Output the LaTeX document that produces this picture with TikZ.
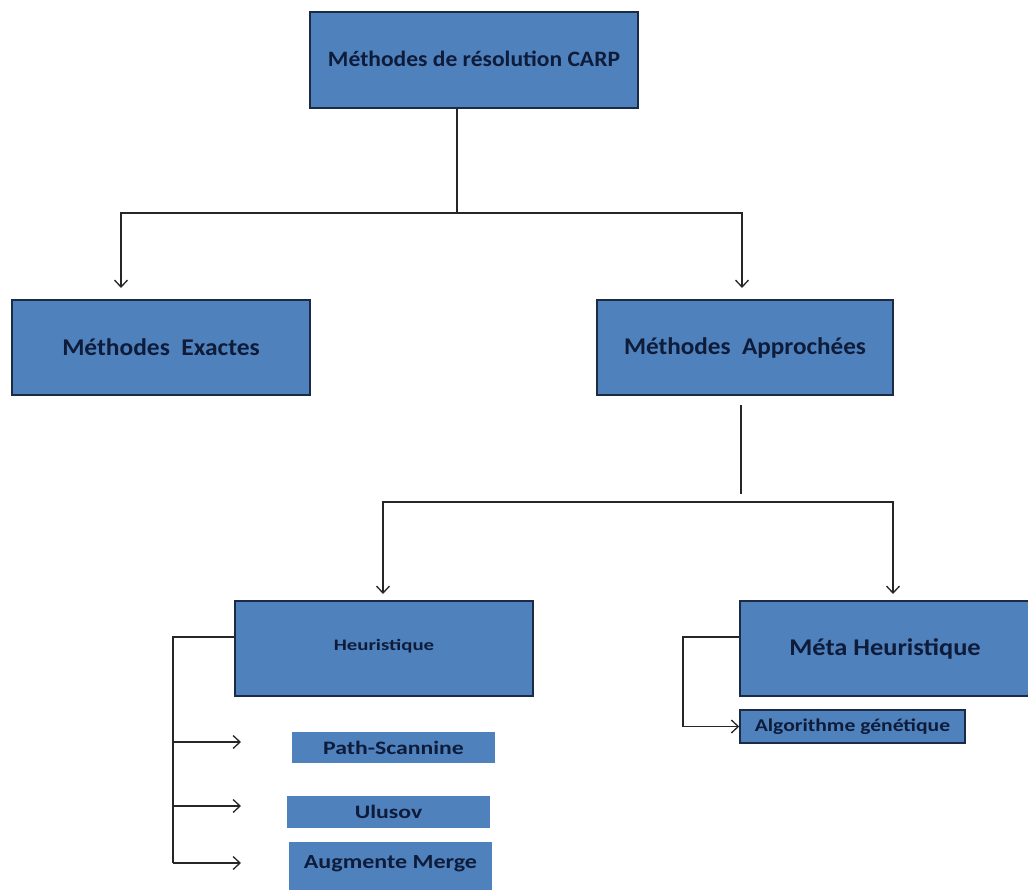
\documentclass[tikz,border=0pt]{standalone}
\usepackage{fontspec}
\setmainfont{Carlito}
\usetikzlibrary{arrows.meta}
\definecolor{boxblue}{HTML}{4F81BD}
\definecolor{txt}{HTML}{0E1C3A}
\definecolor{edgec}{HTML}{1B2A45}
\newcommand{\fs}[1]{\fontsize{#1}{#1}\selectfont\bfseries}
\newcommand{\sxt}[3]{\scalebox{#1}[1]{\fs{#2}#3}}
\begin{document}
\begin{tikzpicture}[x=1pt,y=-1pt,
  box/.style={draw=edgec, line width=1.5pt, fill=boxblue, inner sep=0pt, text=txt},
  sub/.style={fill=boxblue, inner sep=0pt, text=txt},
  con/.style={draw=black!85, line width=1.5pt},
  arr/.style={con, -{Straight Barb[length=7pt,width=13pt,line width=1.3pt]}}]
\useasboundingbox (0,0) rectangle (1028,889);
\fill[white] (0,0) rectangle (1028,889);

\node[box, minimum width=328pt, minimum height=96pt] (top) at (474,60) {\raisebox{2pt}{\sxt{1.07}{22}{Méthodes de résolution CARP}}};
\node[box, minimum width=298pt, minimum height=95pt] (exa) at (161,347.5) {\sxt{1.06}{24}{Méthodes\ \ Exactes}};
\node[box, minimum width=296pt, minimum height=95pt] (app) at (745,347.5) {\raisebox{2pt}{\sxt{1.05}{24}{Méthodes\ \ Approchées}}};
\node[box, minimum width=298pt, minimum height=95pt] (heu) at (384,648.5) {\raisebox{8pt}{\sxt{1.3}{16}{Heuristique}}};
\node[box, minimum width=300pt, minimum height=95pt] (meta) at (890,648.5) {\hspace*{-10pt}\sxt{1.1}{24}{Méta Heuristique}};
\node[box, minimum width=225pt, minimum height=33pt] (algo) at (852.5,726.5) {\sxt{1.2}{18}{Algorithme génétique}};
\node[sub, minimum width=203pt, minimum height=31pt] (path) at (393.5,747.5) {\sxt{1.25}{19}{Path-Scannine}};
\node[sub, minimum width=203pt, minimum height=32pt] (ulu) at (388.5,812) {\sxt{1.25}{19}{Ulusov}};
\node[sub, minimum width=203pt, minimum height=48pt] (aug) at (390.5,866) {\raisebox{7pt}{\sxt{1.2}{20}{Augmente Merge}}};

% top level
\coordinate (j1) at (457,213);
\coordinate (eL) at (121,288);
\coordinate (eR) at (742,288);
\draw[con] (top.south -| j1) -- (j1);
\draw[arr] (j1) -| (eL);
\draw[arr] (j1) -| (eR);

% approchees level
\coordinate (s2) at (741,405);
\coordinate (j2) at (741,494);
\coordinate (h2) at (741,502);
\coordinate (eH) at (383,594);
\coordinate (eM) at (893,594);
\draw[con] (s2) -- (j2);
\draw[arr] (h2) -| (eH);
\draw[arr] (h2) -| (eM);

% heuristique children
\coordinate (hb) at (173,637);
\coordinate (hend) at (173,863);
\draw[con] (heu.west |- hb) -- (hb) -- (hend);
\draw[arr] (173,742) -- (241,742);
\draw[arr] (173,806) -- (241,806);
\draw[arr] (hend) -- (241,863);

% meta child
\coordinate (mb) at (683,637);
\draw[arr] (meta.west |- mb) -- (mb) |- (algo.west);
\end{tikzpicture}
\end{document}
